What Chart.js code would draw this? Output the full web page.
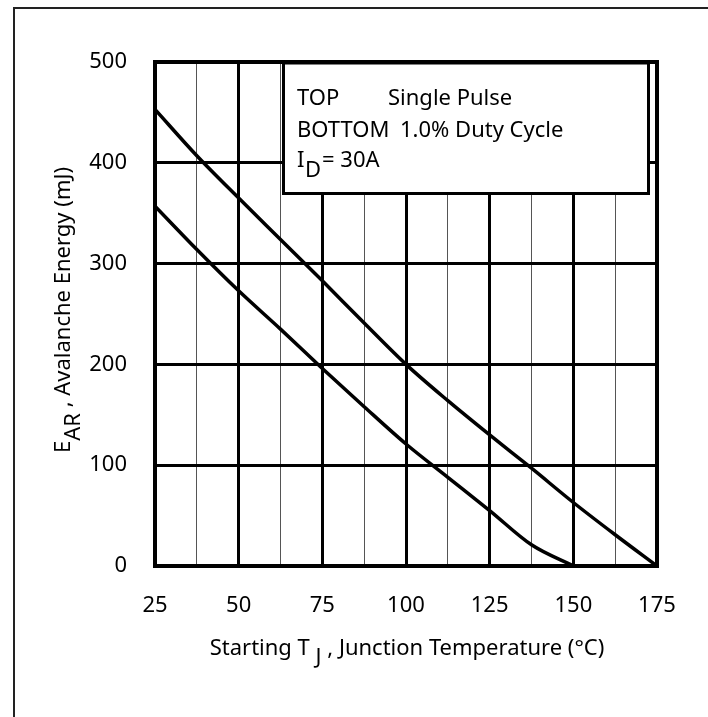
<!DOCTYPE html>
<html>
<head>
<meta charset="utf-8">
<script src="https://cdn.jsdelivr.net/npm/chart.js@4/dist/chart.umd.min.js"></script>
<style>
html,body{margin:0;padding:0;background:#fff;}
canvas{display:block;}
</style>
</head>
<body>
<canvas id="c" width="708" height="717"></canvas>
<script>
// Data
const tempTop = [25, 37.5, 50, 62.5, 75, 87.5, 100, 112.5, 125, 137.5, 150, 162.5, 175];
const singlePulse = [453, 407, 365, 324, 283, 241, 200, 164, 130, 97, 63, 31, 0];
const tempBottom = [25, 37.5, 50, 62.5, 75, 87.5, 100, 112.5, 125, 137.5, 150];
const dutyCycle = [357, 314, 273, 235, 196, 158, 121, 88, 55, 21, 0];
const xTicks = [25, 50, 75, 100, 125, 150, 175];
const yTicks = [0, 100, 200, 300, 400, 500];
const legendLines = [["TOP", "Single Pulse"], ["BOTTOM", "1.0% Duty Cycle"]];

const FONT = '"Noto Sans", sans-serif';
const FS = 22;

const decor = {
  id: 'decor',
  afterDatasetsDraw(chart) {
    const ctx = chart.ctx;
    ctx.save();
    // legend box
    const bx = 283.5, by = 63, bw = 648.5 - 283.5, bh = 193.5 - 63;
    ctx.fillStyle = '#fff';
    ctx.fillRect(bx, by, bw, bh);
    ctx.lineWidth = 3;
    ctx.strokeStyle = '#000';
    ctx.strokeRect(bx, by, bw, bh);
    ctx.fillStyle = '#000';
    ctx.font = FS + 'px ' + FONT;
    ctx.textBaseline = 'alphabetic';
    ctx.textAlign = 'left';
    ctx.fillText(legendLines[0][0], 297, 105);
    ctx.fillText(legendLines[0][1], 388, 105);
    ctx.fillText(legendLines[1][0], 297, 137);
    ctx.fillText(legendLines[1][1], 400, 137);
    ctx.fillText('I', 297, 167);
    ctx.fillText('D', 305, 177);
    ctx.fillText('= 30A', 322, 167);
    ctx.restore();
  },
  afterDraw(chart) {
    const ctx = chart.ctx;
    const a = chart.chartArea;
    ctx.save();
    // plot frame
    ctx.lineWidth = 4;
    ctx.strokeStyle = '#000';
    ctx.strokeRect(a.left, a.top, a.right - a.left, a.bottom - a.top);
    // outer frame
    ctx.lineWidth = 2;
    ctx.strokeStyle = '#222';
    ctx.beginPath();
    ctx.moveTo(14, 730);
    ctx.lineTo(14, 8);
    ctx.lineTo(720, 8);
    ctx.stroke();
    // x title
    ctx.fillStyle = '#000';
    ctx.font = FS + 'px ' + FONT;
    ctx.textAlign = 'left';
    ctx.textBaseline = 'alphabetic';
    const p1 = 'Starting T ', p2 = 'J', p3 = ' , Junction Temperature (°C)';
    const w1 = ctx.measureText(p1).width, w2 = ctx.measureText(p2).width, w3 = ctx.measureText(p3).width;
    const tw = w1 + w2 + w3;
    const x0 = 407 - tw / 2;
    const base = 655;
    ctx.fillText(p1, x0, base);
    ctx.fillText(p2, x0 + w1, base + 9);
    ctx.fillText(p3, x0 + w1 + w2, base);
    // y title
    const q1 = 'E', q2 = 'AR', q3 = ' , Avalanche Energy (mJ)';
    const v1 = ctx.measureText(q1).width, v2 = ctx.measureText(q2).width, v3 = ctx.measureText(q3).width;
    const vw = v1 + v2 + v3;
    ctx.translate(70, 310);
    ctx.rotate(-Math.PI / 2);
    const s0 = -vw / 2;
    ctx.fillText(q1, s0, 0);
    ctx.fillText(q2, s0 + v1, 10);
    ctx.fillText(q3, s0 + v1 + v2, 0);
    ctx.restore();
  }
};

new Chart(document.getElementById('c'), {
  type: 'line',
  data: {
    datasets: [
      { label: 'Single Pulse', data: tempTop.map((x, i) => ({x, y: singlePulse[i]})),
        borderColor: '#000', borderWidth: 3.5, pointRadius: 0, cubicInterpolationMode: 'monotone', fill: false },
      { label: '1.0% Duty Cycle', data: tempBottom.map((x, i) => ({x, y: dutyCycle[i]})),
        borderColor: '#000', borderWidth: 3.5, pointRadius: 0, cubicInterpolationMode: 'monotone', fill: false }
    ]
  },
  options: {
    responsive: false,
    animation: false,
    events: [],
    layout: { padding: { top: 62, right: 51, left: 0, bottom: 0 } },
    plugins: { legend: { display: false }, tooltip: { enabled: false }, title: { display: false } },
    scales: {
      x: {
        type: 'linear', min: 25, max: 175,
        afterBuildTicks(s) {
          const t = [];
          for (let i = 0; i < xTicks.length; i++) {
            t.push({value: xTicks[i]});
            if (i < xTicks.length - 1) t.push({value: (xTicks[i] + xTicks[i + 1]) / 2});
          }
          s.ticks = t;
        },
        afterFit(s) { s.height = 151; },
        ticks: {
          autoSkip: false, maxRotation: 0, padding: 27, color: '#000',
          font: { family: FONT, size: FS },
          callback: v => xTicks.includes(v) ? String(v) : ''
        },
        grid: {
          drawTicks: false,
          color: c => (c.tick && xTicks.includes(c.tick.value)) ? '#000' : '#555',
          lineWidth: c => (c.tick && xTicks.includes(c.tick.value)) ? 3 : 1
        },
        border: { display: false }
      },
      y: {
        type: 'linear', min: 0, max: 500,
        afterBuildTicks(s) { s.ticks = yTicks.map(v => ({value: v})); },
        afterFit(s) { s.width = 155; },
        ticks: { padding: 28, color: '#000', font: { family: FONT, size: FS } },
        grid: { drawTicks: false, color: '#000', lineWidth: 3 },
        border: { display: false }
      }
    }
  },
  plugins: [decor]
});
</script>
</body>
</html>
